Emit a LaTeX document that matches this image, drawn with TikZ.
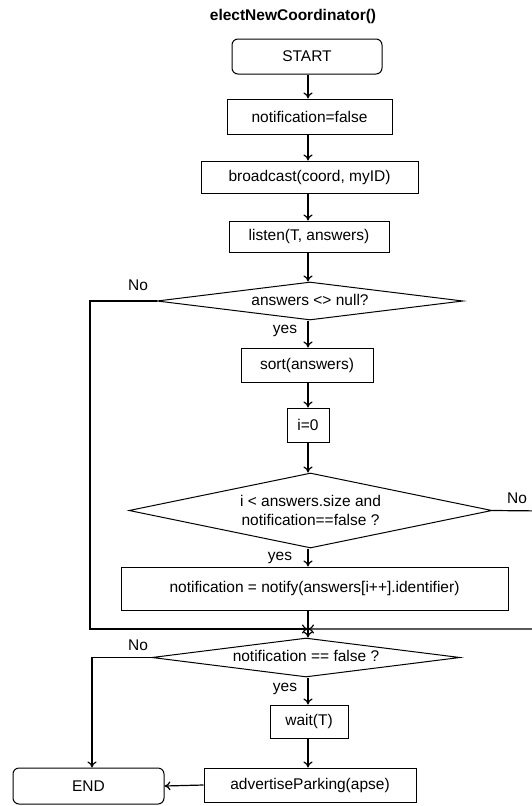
\documentclass[tikz,border=0pt]{standalone}
\usepackage{fontspec}
\setmainfont{Liberation Sans}
\usetikzlibrary{shapes.geometric,arrows.meta}
\begin{document}
\begin{tikzpicture}[x=1pt,y=-1pt,
  font=\fontsize{15.5}{18.5}\selectfont,
  every node/.style={inner sep=0pt},
  box/.style={draw,line width=1pt,rectangle,minimum width=#1},
  rbox/.style={draw,line width=1pt,rectangle,rounded corners=6pt,minimum width=#1},
  dia/.style={draw,line width=1pt,diamond,aspect=#1},
  arr/.style={line width=1.2pt,-{To[length=6pt,width=9pt]}},
  ln/.style={line width=1.2pt},
  lab/.style={font=\fontsize{15.5}{18.5}\selectfont}
]
\useasboundingbox (0,0) rectangle (531,806);
\node[font=\fontsize{15.5}{18.5}\selectfont\bfseries] (title) at (293,16) {electNewCoordinator()};
\node[rbox=150pt,minimum height=35pt] (start) at (307,56.5) {START};
\node[box=165pt,minimum height=35pt] (nf) at (309.5,116.5) {notification=false};
\node[box=217pt,minimum height=32pt] (bc) at (309.5,177) {broadcast(coord, myID)};
\node[box=160pt,minimum height=31pt] (li) at (309,236.5) {listen(T, answers)};
\node[dia=8.05,minimum width=306pt,minimum height=38pt] (d1) at (310,301) {\raisebox{3pt}{answers <> null?}};
\node[box=132pt,minimum height=34pt] (so) at (307,365) {sort(answers)};
\node[box=42pt,minimum height=34pt] (i0) at (308,425) {i=0};
\node[dia=4.84,minimum width=363pt,minimum height=75pt,align=center] (d2) at (310.5,510.5) {i < answers.size and\\notification==false ?};
\node[box=387pt,minimum height=43pt] (nt) at (314.5,588.5) {notification = notify(answers[i++].identifier)};
\coordinate (m) at (308,629);
\node[dia=7.9,minimum width=308pt,minimum height=39pt] (d3) at (306,657.5) {\raisebox{4pt}{notification == false ?}};
\node[box=78pt,minimum height=33pt] (wt) at (309,721.5) {wait(T)};
\node[box=212pt,minimum height=34pt] (ad) at (310,785) {advertiseParking(apse)};
\node[rbox=151pt,minimum height=36pt] (en) at (88.5,786) {END};
\coordinate (l1) at (90,301);
\coordinate (l1b) at (90,629);
\coordinate (r2) at (545,511);
\coordinate (r2b) at (545,629);
\coordinate (l3) at (92,657.5);

\node[lab] (no1) at (138,285) {No};
\node[lab] (yes1) at (285,331) {yes};
\node[lab] (no2) at (517,498) {No};
\node[lab] (yes2) at (280,558) {yes};
\node[lab] (no3) at (138,645) {No};
\node[lab] (yes3) at (285,689) {yes};

\draw[arr] (start.south -| 308,0) -- (nf.north -| 308,0);
\draw[arr] (nf.south -| 308,0) -- (bc.north -| 308,0);
\draw[arr] (bc.south -| 308,0) -- (li.north -| 308,0);
\draw[arr] (li.south -| 308,0) -- (d1.north -| 308,0);
\draw[arr] (d1.south -| 308,0) -- (so.north -| 308,0);
\draw[arr] (so.south -| 308,0) -- (i0.north -| 308,0);
\draw[arr] (i0.south -| 308,0) -- (d2.north -| 308,0);
\draw[arr] (d2.south -| 308,0) -- (nt.north -| 308,0);
\draw[arr] (nt.south -| m) -- (d3.north -| m);
\draw[arr] (d1.west) -- (l1) -- (l1b) -- (m);
\draw[arr] (d2.east) -- (r2) -- (r2b) -- (m);
\draw[arr] (d3.west) -- (l3) -- (l3 |- en.north);
\draw[arr] (d3.south -| 308,0) -- (wt.north -| 308,0);
\draw[arr] (wt.south -| 308,0) -- (ad.north -| 308,0);
\draw[arr] (ad.west) -- (en.east);
\end{tikzpicture}
\end{document}
